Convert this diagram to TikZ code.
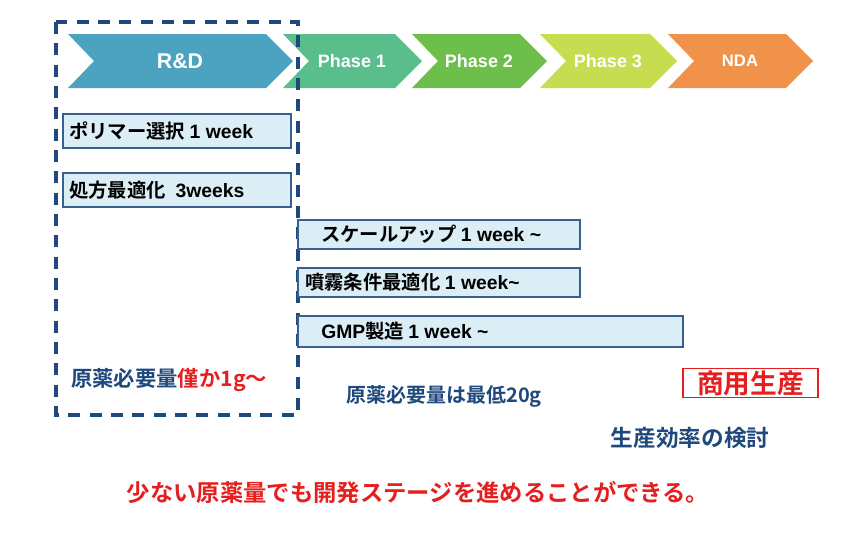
\documentclass[tikz,border=0pt]{standalone}
\usepackage{fontspec}
\setmainfont{Noto Sans CJK JP}[BoldFont={Noto Sans CJK JP Bold}]
\setsansfont{Liberation Sans}
\definecolor{rdblue}{RGB}{75,163,191}
\definecolor{ph1green}{RGB}{90,190,140}
\definecolor{ph2green}{RGB}{110,190,75}
\definecolor{ph3green}{RGB}{200,220,80}
\definecolor{ndaorange}{RGB}{240,146,74}
\definecolor{barfill}{RGB}{220,238,245}
\definecolor{barline}{RGB}{58,95,143}
\definecolor{navy}{RGB}{31,73,125}
\definecolor{alertred}{RGB}{230,30,30}
\tikzset{
  stage/.style={font=\sffamily\bfseries\fontsize{13.5}{15}\selectfont,text=white},
  bar/.style={draw=barline,line width=1.2pt,fill=barfill},
  bartext/.style={anchor=west,font=\bfseries\fontsize{14.5}{16}\selectfont,inner sep=0.75pt},
  note/.style={font=\bfseries\fontsize{15}{17}\selectfont,text=navy,inner sep=0.75pt}
}
% chevron: left x, right top x, colour, node name, label
\newcommand{\chev}[5]{%
  \fill[#3] (#1,34) -- (#2,34) -- (#2+27,61) -- (#2,88) -- (#1,88) -- (#1+26,61) -- cycle;
  \node[stage] (#4) at ({(#1+#2)/2+13},61) {#5};}
\begin{document}
\begin{tikzpicture}[x=0.75pt,y=-0.75pt]
\useasboundingbox (0,0) rectangle (860,537);

% stage chevrons
\chev{68}{266}{rdblue}{rd}{\fontsize{16}{18}\selectfont R\&D}
\chev{283}{395}{ph1green}{ph1}{Phase 1}
\chev{412}{520}{ph2green}{ph2}{Phase 2}
\chev{540}{650}{ph3green}{ph3}{Phase 3}
\chev{668}{786}{ndaorange}{nda}{\fontsize{12.5}{14}\selectfont NDA}

% R&D frame
\draw[navy,line width=2.4pt,dash pattern={on 9pt off 7pt}] (56,22) rectangle (298,415);

% task bars
\draw[bar] (63,114) rectangle (291,148);
\node[bartext] (poly) at (68,131) {ポリマー選択 \sffamily 1 week};
\draw[bar] (63,173) rectangle (291,207);
\node[bartext] (form) at (68,190) {処方最適化 \sffamily\ 3weeks};
\draw[bar] (298,220) rectangle (580,249);
\node[bartext] (scale) at (320,234.5) {スケールアップ \sffamily 1 week \~{}};
\draw[bar] (298,268) rectangle (580,297);
\node[bartext] (spray) at (304,282.5) {噴霧条件最適化 \sffamily 1 week\~{}};
\draw[bar] (298,316) rectangle (683,347);
\node[bartext] (gmp) at (320,331.5) {\sffamily GMP\rmfamily 製造 \sffamily 1 week \~{}};

% notes
\node[note,anchor=west,font=\bfseries\fontsize{16}{18}\selectfont] (small) at (70,380) {原薬必要量\textcolor{alertred}{僅か1g〜}};
\node[note,anchor=west] (min) at (345,396) {原薬必要量は最低20g};
\node[draw=alertred,line width=1.2pt,text=alertred,font=\bfseries\fontsize{20}{22}\selectfont,
  minimum width=101pt,minimum height=22pt,inner sep=1pt] (comm) at (750.5,383) {商用生産};
\node[note,font=\bfseries\fontsize{17}{19}\selectfont] (eff) at (690,438) {生産効率の検討};
\node[font=\bfseries\fontsize{17.5}{19}\selectfont,text=alertred] (goal) at (418,492)
  {少ない原薬量でも開発ステージを進めることができる。};
\end{tikzpicture}
\end{document}
